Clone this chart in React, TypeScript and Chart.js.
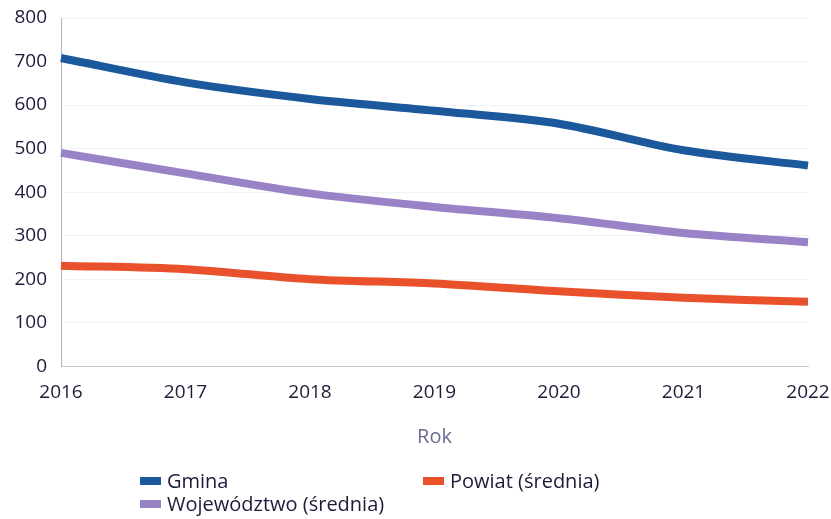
import React, { useEffect, useRef } from "react";
import { Chart, registerables } from "chart.js";

Chart.register(...registerables);

const years = ["2016", "2017", "2018", "2019", "2020", "2021", "2022"];
const gmina = [708, 652, 614, 587, 557, 496, 461];
const wojewodztwo = [490, 443, 397, 366, 340, 306, 285];
const powiat = [231, 223, 200, 190, 172, 157, 148];

const seriesNames = ["Gmina", "Województwo (średnia)", "Powiat (średnia)"];
const seriesColors = ["#1b589c", "#9a82c6", "#e8512b"];

const FONT = "'Open Sans', 'Noto Sans', sans-serif";
const TEXT = "#1c1c3a";

export default function App() {
  const ref = useRef<HTMLCanvasElement | null>(null);

  useEffect(() => {
    document.body.style.margin = "0";
    const ctx = ref.current!;
    const chart = new Chart(ctx, {
      type: "line",
      data: {
        labels: years,
        datasets: [
          { label: seriesNames[0], data: gmina, borderColor: seriesColors[0], backgroundColor: seriesColors[0] },
          { label: seriesNames[1], data: wojewodztwo, borderColor: seriesColors[1], backgroundColor: seriesColors[1] },
          { label: seriesNames[2], data: powiat, borderColor: seriesColors[2], backgroundColor: seriesColors[2] },
        ].map((d) => ({ ...d, borderWidth: 8, pointRadius: 0, tension: 0.3, fill: false, borderCapStyle: "butt" as const })),
      },
      options: {
        animation: false,
        responsive: false,
        layout: { padding: { left: 0, right: 0, top: 0, bottom: 70 } },
        plugins: { legend: { display: false }, tooltip: { enabled: false } },
        scales: {
          x: {
            grid: { display: false, drawTicks: false },
            border: { display: true, color: "#c4c4d4", width: 1 },
            ticks: { color: TEXT, font: { family: FONT, size: 19 }, padding: 15, maxRotation: 0 },
            title: { display: true, text: "Rok", color: "#6b6b94", font: { family: FONT, size: 20 }, padding: { top: 6, bottom: 0 } },
            afterFit: (scale: any) => {
              scale.paddingRight = 23;
              scale.paddingLeft = 0;
            },
          },
          y: {
            min: 0,
            max: 800,
            grid: { color: "#f3f3f6", drawTicks: false },
            border: { display: true, color: "#b0b0c0", width: 1 },
            ticks: { stepSize: 100, color: TEXT, font: { family: FONT, size: 19 }, padding: 14 },
            afterFit: (scale: any) => {
              scale.width = 61;
              scale.paddingTop = 18;
              scale.paddingBottom = 0;
            },
          },
        },
      },
    });
    return () => chart.destroy();
  }, []);

  const legendItem = (i: number, left: number, top: number) => (
    <div
      key={i}
      style={{
        position: "absolute",
        left,
        top,
        display: "flex",
        alignItems: "center",
        fontFamily: FONT,
        fontSize: 20,
        color: TEXT,
        whiteSpace: "nowrap",
        lineHeight: "24px",
      }}
    >
      <span style={{ display: "inline-block", width: 21, height: 8, background: seriesColors[i], marginRight: 6 }} />
      {seriesNames[i]}
    </div>
  );

  return (
    <div style={{ position: "fixed", left: 0, top: 0, width: 831, height: 519, background: "#fff" }}>
      <canvas ref={ref} width={831} height={519} style={{ display: "block" }} />
      {legendItem(0, 140, 469)}
      {legendItem(2, 423, 469)}
      {legendItem(1, 140, 492)}
    </div>
  );
}
